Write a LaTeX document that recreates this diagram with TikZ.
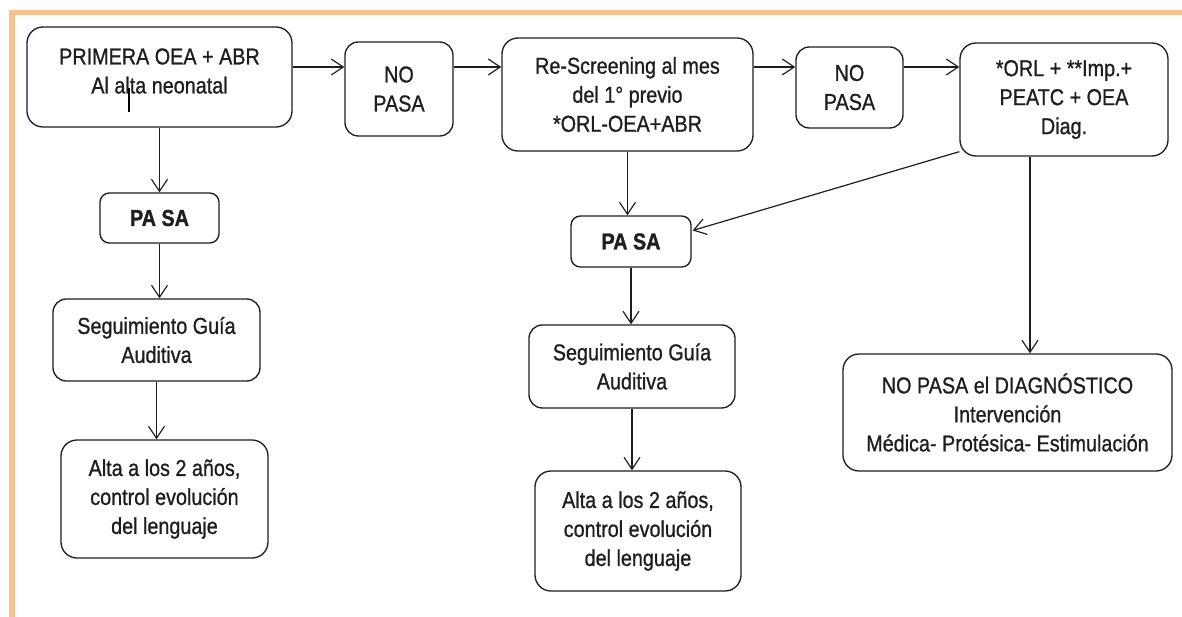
\documentclass[tikz,border=0pt]{standalone}
\usepackage{fontspec}
\setmainfont{Liberation Sans}[FakeStretch=0.86, UprightFeatures={FakeBold=0.9}, BoldFeatures={FakeBold=1.2}]
\usetikzlibrary{arrows.meta,calc}
\definecolor{frameorange}{RGB}{250,192,144}
\definecolor{ink}{RGB}{30,30,30}
\begin{document}
\begin{tikzpicture}[x=0.75pt,y=-0.75pt,
  box/.style={draw=ink, line width=1pt, rounded corners=10pt, align=center,
    inner sep=0pt, text=ink, font=\fontsize{17.25}{21.75}\selectfont},
  dims/.style 2 args={minimum width=#1*0.75pt, minimum height=#2*0.75pt},
  arr/.style={draw=ink, line width=0.9pt,
    -{Straight Barb[length=9pt,width=12pt,line width=0.9pt]}},
  txt/.style={align=center, inner sep=0pt, text=ink, font=\fontsize{17.25}{21.75}\selectfont}]
\useasboundingbox (0,0) rectangle (1182,617);
% frame
\draw[frameorange, line width=3.8pt, line join=miter] (12,617) -- (12,12.5) -- (1182,12.5);
% helper coordinates
\coordinate (row) at (0,67);
\coordinate (colr) at (1030,0);
% top row
\node[box, dims={265}{100}, rounded corners=12pt] (b1) at (159.5,77) {};
\node[txt] (b1t) at (159.5,71) {PRIMERA OEA + ABR\\Al alta neonatal};
\draw[line width=1.2pt] (129,88) -- (129,112);
\node[box, dims={108}{94}] (n1) at (399,89) {NO\\PASA};
\node[box, dims={251}{113}, rounded corners=12pt] (b2) at (627.5,94.5) {Re-Screening  al mes\\del 1° previo\\*ORL-OEA+ABR};
\node[box, dims={107}{81}] (n2) at (849.5,87.5) {NO\\PASA};
\node[box, dims={208}{113}, rounded corners=12pt] (b3) at (1064,99.5) {*ORL + **Imp.+\\PEATC + OEA\\Diag.};
% left column
\node[box, dims={119}{50}, rounded corners=7pt] (p1) at (159.5,218) {\textbf{PA SA}};
\node[box, dims={207}{82}] (s1) at (156.5,340) {Seguimiento Guía\\Auditiva};
\node[box, dims={207}{118}, rounded corners=12pt] (a1) at (164.5,499) {Alta a los 2 años,\\control evolución\\del lenguaje};
% middle column
\node[box, dims={120}{51}, rounded corners=7pt] (p2) at (631,241.5) {\textbf{PA SA}};
\node[box, dims={206}{83}] (s2) at (632,366.5) {Seguimiento Guía\\Auditiva};
\node[box, dims={206}{120}, rounded corners=12pt] (a2) at (638,531) {Alta a los 2 años,\\control evolución\\del lenguaje};
% right
\node[box, dims={329}{117}, rounded corners=12pt] (d) at (1007.5,412.5) {NO PASA el DIAGNÓSTICO\\Intervención\\Médica- Protésica- Estimulación};
% connectors
\draw[arr] (b1.east |- row) -- (n1.west |- row);
\draw[arr] (n1.east |- row) -- (b2.west |- row);
\draw[arr] (b2.east |- row) -- (n2.west |- row);
\draw[arr] (n2.east |- row) -- (b3.west |- row);
\draw[arr] (b1.south) -- (b1.south |- p1.north);
\draw[arr] (p1.south) -- (p1.south |- s1.north);
\draw[arr] (s1.south) -- (s1.south |- a1.north);
\draw[arr] (b2.south) -- (b2.south |- p2.north);
\draw[arr] (p2.south) -- (p2.south |- s2.north);
\draw[arr] (s2.south) -- (s2.south |- a2.north);
\draw[arr] ($(b3.south west)+(0,-5)$) -- ($(p2.east)+(1,-11)$);
\draw[arr] (b3.south -| colr) -- (d.north -| colr);
\end{tikzpicture}
\end{document}
